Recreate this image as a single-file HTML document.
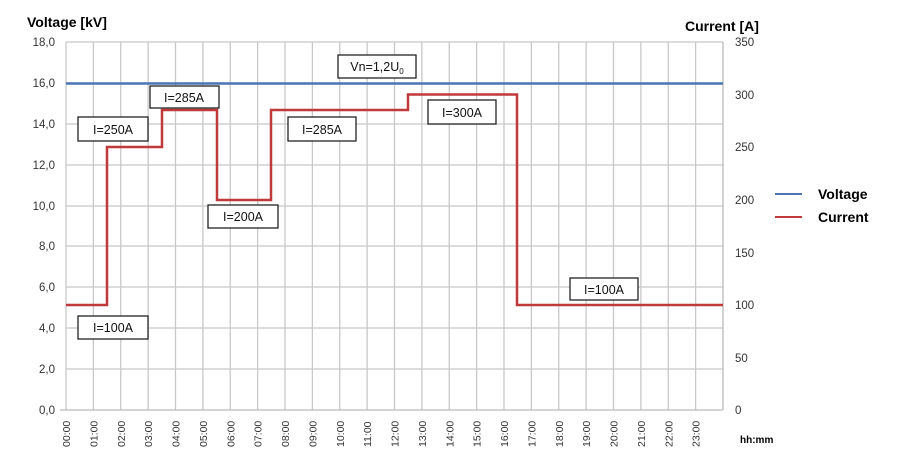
<!DOCTYPE html>
<html><head><meta charset="utf-8"><style>
body{margin:0;background:#fff;}
svg{display:block;font-family:"Liberation Sans",sans-serif;}
</style></head><body>
<svg width="900" height="457" viewBox="0 0 900 457">
<g stroke="#c8c8c8" stroke-width="1.3">
<line x1="66" y1="42" x2="723" y2="42"/><line x1="66" y1="83" x2="723" y2="83"/><line x1="66" y1="124" x2="723" y2="124"/><line x1="66" y1="165" x2="723" y2="165"/><line x1="66" y1="206" x2="723" y2="206"/><line x1="66" y1="246" x2="723" y2="246"/><line x1="66" y1="287" x2="723" y2="287"/><line x1="66" y1="328" x2="723" y2="328"/><line x1="66" y1="369" x2="723" y2="369"/>
</g>
<g stroke="#c8c8c8" stroke-width="1.3" id="vg"></g>
<line x1="60" y1="410" x2="723" y2="410" stroke="#bbb" stroke-width="1.3"/>
<line x1="723" y1="42" x2="723" y2="410" stroke="#bbb" stroke-width="1.3"/>
<g font-size="11.5" fill="#333" text-anchor="end">
<text x="55" y="46">18,0</text><text x="55" y="87">16,0</text><text x="55" y="128">14,0</text><text x="55" y="169">12,0</text><text x="55" y="210">10,0</text><text x="55" y="250">8,0</text><text x="55" y="291">6,0</text><text x="55" y="332">4,0</text><text x="55" y="373">2,0</text><text x="55" y="414">0,0</text>
</g>
<g font-size="11.5" fill="#333">
<text x="735" y="46">350</text><text x="735" y="99">300</text><text x="735" y="151">250</text><text x="735" y="204">200</text><text x="735" y="257">150</text><text x="735" y="309">100</text><text x="735" y="362">50</text><text x="735" y="414">0</text>
</g>
<text x="27" y="27" font-size="14" font-weight="bold">Voltage [kV]</text>
<text x="685" y="31" font-size="14" font-weight="bold">Current [A]</text>
<text x="740" y="443" font-size="10" font-weight="bold">hh:mm</text>
<g id="xl" font-size="10.5" fill="#333"></g>
<line x1="66" y1="83.5" x2="723" y2="83.5" stroke="#4a76b8" stroke-width="2.5"/>
<polyline fill="none" stroke="#c0393b" stroke-width="2.5" points="66,305 107,305 107,147 162,147 162,110 217,110 217,200 271,200 271,110 408,110 408,94.5 517,94.5 517,305 723,305"/>
<g fill="#fff" stroke="#222" stroke-width="1.3">
<rect x="338" y="55" width="78" height="23"/>
<rect x="78" y="316" width="70" height="23"/>
<rect x="78" y="117" width="70" height="24"/>
<rect x="150" y="86" width="69" height="22"/>
<rect x="208" y="205" width="70" height="23"/>
<rect x="288" y="117" width="68" height="24"/>
<rect x="428" y="100" width="68" height="24"/>
<rect x="570" y="278" width="68" height="22"/>
</g>
<g font-size="12.5" fill="#111" text-anchor="middle">
<text x="377" y="71">Vn=1,2U<tspan font-size="8" dy="3">0</tspan></text>
<text x="113" y="332">I=100A</text>
<text x="113" y="134">I=250A</text>
<text x="184" y="102">I=285A</text>
<text x="243" y="221">I=200A</text>
<text x="322" y="134">I=285A</text>
<text x="462" y="117">I=300A</text>
<text x="604" y="294">I=100A</text>
</g>
<line x1="775" y1="194" x2="802" y2="194" stroke="#4a76b8" stroke-width="2"/>
<line x1="775" y1="217" x2="802" y2="217" stroke="#c0393b" stroke-width="2"/>
<text x="818" y="199" font-size="14" font-weight="bold">Voltage</text>
<text x="818" y="222" font-size="14" font-weight="bold">Current</text>
<script>
var vg=document.getElementById('vg'),xl=document.getElementById('xl'),ns='http://www.w3.org/2000/svg';
for(var i=0;i<24;i++){var x=66+i*27.375;var l=document.createElementNS(ns,'line');l.setAttribute('x1',x);l.setAttribute('x2',x);l.setAttribute('y1',42);l.setAttribute('y2',410);vg.appendChild(l);
var t=document.createElementNS(ns,'text');t.setAttribute('transform','translate('+(x+4)+',447) rotate(-90)');t.textContent=(i<10?'0':'')+i+':00';xl.appendChild(t);}
</script>
</svg>
</body></html>
